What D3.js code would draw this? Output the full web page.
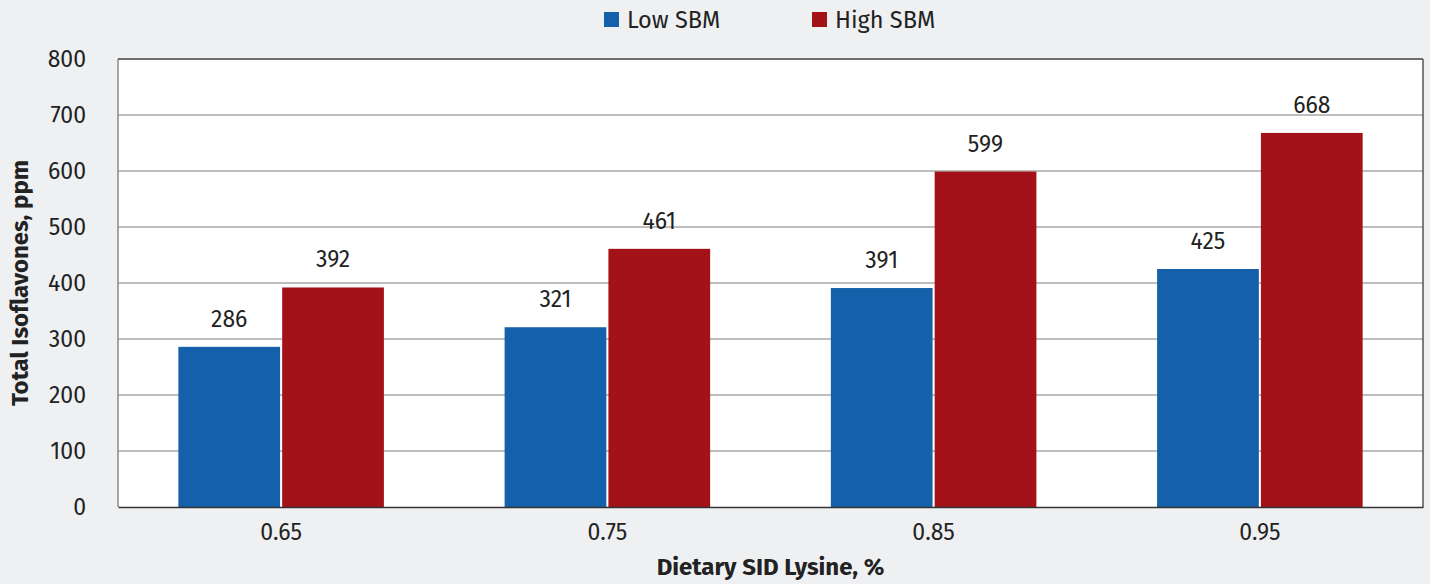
<!DOCTYPE html>
<html>
<head>
<meta charset="utf-8">
<script src="https://cdn.jsdelivr.net/npm/d3@7"></script>
<style>
  html, body { margin: 0; padding: 0; background: #eff0f2; }
  svg { display: block; }
  svg text { font-family: "Fira Sans", "Noto Sans", "Open Sans", sans-serif; }
</style>
</head>
<body>
<svg id="chart" width="1430" height="584"></svg>
<script>
const categories = ["0.65", "0.75", "0.85", "0.95"];
const seriesNames = ["Low SBM", "High SBM"];
const lowSBM = [286, 321, 391, 425];
const highSBM = [392, 461, 599, 668];
const yTicks = [0, 100, 200, 300, 400, 500, 600, 700, 800];
const colors = ["#1560aa", "#a31218"];

const svg = d3.select("#chart");
const margin = { left: 118, right: 7, top: 59, bottom: 77 };
const W = 1430, H = 584;
const innerW = W - margin.left - margin.right;
const innerH = H - margin.top - margin.bottom;
const FS = 23;       // tick and value labels
const FS_TITLE = 24; // axis titles
const FS_LEGEND = 23.5;

const g = svg.append("g").attr("transform", `translate(${margin.left},${margin.top})`);

const x0 = d3.scaleBand().domain(categories).range([0, innerW]).paddingInner(0.37).paddingOuter(0.185);
const x1 = d3.scaleBand().domain(seriesNames).range([0, x0.bandwidth()]).paddingInner(0.02);
const y = d3.scaleLinear().domain([0, 800]).range([innerH, 0]);

// plot background
g.append("rect").attr("width", innerW).attr("height", innerH).attr("fill", "#ffffff");

// gridlines
g.append("g").selectAll("line").data(yTicks.filter(t => t > 0)).join("line")
  .attr("x1", 0).attr("x2", innerW)
  .attr("y1", d => y(d)).attr("y2", d => y(d))
  .attr("stroke", "#a8a8a8").attr("stroke-width", 1.3);

// bars
const rows = categories.map((c, i) => ({ cat: c, vals: [lowSBM[i], highSBM[i]] }));
const groups = g.append("g").selectAll("g").data(rows).join("g")
  .attr("transform", d => `translate(${x0(d.cat)},0)`);

groups.selectAll("rect").data(d => d.vals.map((v, j) => ({ name: seriesNames[j], v, j }))).join("rect")
  .attr("x", d => x1(d.name))
  .attr("y", d => y(d.v))
  .attr("width", x1.bandwidth())
  .attr("height", d => innerH - y(d.v))
  .attr("fill", d => colors[d.j]);

groups.selectAll("text").data(d => d.vals.map((v, j) => ({ name: seriesNames[j], v, j }))).join("text")
  .attr("x", d => x1(d.name) + x1.bandwidth() / 2)
  .attr("y", d => y(d.v) - 20)
  .attr("text-anchor", "middle")
  .attr("font-size", FS)
  .attr("fill", "#222")
  .text(d => d.v);

// frame
g.append("line").attr("x1", 0).attr("x2", 0).attr("y1", 0).attr("y2", innerH).attr("stroke", "#8a8a8a").attr("stroke-width", 1.5);
g.append("line").attr("x1", innerW).attr("x2", innerW).attr("y1", 0).attr("y2", innerH).attr("stroke", "#555").attr("stroke-width", 1.5);
g.append("line").attr("x1", 0).attr("x2", innerW).attr("y1", 0).attr("y2", 0).attr("stroke", "#555").attr("stroke-width", 1.5);

// y axis
const yAxis = g.append("g").call(d3.axisLeft(y).tickValues(yTicks).tickSize(0).tickPadding(32));
yAxis.attr("font-family", null).attr("font-size", null);
yAxis.select(".domain").remove();
yAxis.selectAll("text").attr("font-size", FS).attr("fill", "#222");

// x axis
const xAxis = g.append("g").attr("transform", `translate(0,${innerH})`)
  .call(d3.axisBottom(x0).tickSize(0).tickPadding(17));
xAxis.attr("font-family", null).attr("font-size", null);
xAxis.select(".domain").attr("stroke", "#333").attr("stroke-width", 1.5);
xAxis.selectAll("text").attr("font-size", FS).attr("fill", "#222");

// axis titles
svg.append("text")
  .attr("transform", `translate(28,${margin.top + innerH / 2}) rotate(-90)`)
  .attr("text-anchor", "middle")
  .attr("font-size", FS_TITLE).attr("font-weight", "bold").attr("fill", "#222")
  .text("Total Isoflavones, ppm");

svg.append("text")
  .attr("x", margin.left + innerW / 2).attr("y", 575)
  .attr("text-anchor", "middle")
  .attr("font-size", FS_TITLE).attr("font-weight", "bold").attr("fill", "#222")
  .text("Dietary SID Lysine, %");

// legend
const legendX = [604, 812];
const legend = svg.append("g").selectAll("g").data(seriesNames).join("g")
  .attr("transform", (d, i) => `translate(${legendX[i]},12)`);
legend.append("rect").attr("width", 15).attr("height", 15).attr("fill", (d, i) => colors[i]);
legend.append("text").attr("x", 23).attr("y", 15.5).attr("font-size", FS_LEGEND).attr("fill", "#222").text(d => d);
</script>
</body>
</html>
